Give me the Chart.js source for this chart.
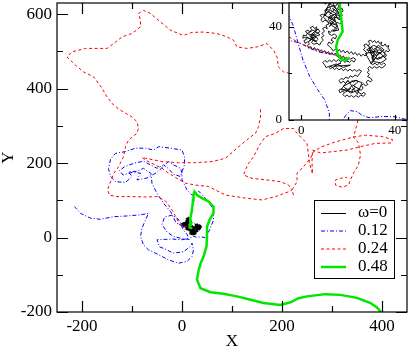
<!DOCTYPE html>
<html>
<head>
<meta charset="utf-8">
<script src="https://cdn.jsdelivr.net/npm/chart.js@4.4.1/dist/chart.umd.min.js"></script>
<style>
  html, body { margin: 0; padding: 0; background: #fff; }
  #wrap { position: relative; width: 409px; height: 350px; }
  #main { position: absolute; left: 0; top: 0; }
  #inset { position: absolute; left: 262px; top: 0; }
</style>
</head>
<body>
<div id="wrap">
  <canvas id="main" width="409" height="350"></canvas>
  <canvas id="inset" width="147" height="145"></canvas>
</div>
<script>
// tick values
const xMajor = [-200, 0, 200, 400];
const xMinor = [-100, 100, 300];
const yMajor = [-200, 0, 200, 400, 600];
const yMinor = [-100, 100, 300, 500];
const insetMajor = [0, 40];
const insetMinor = [20];
const names = ["\u03c9=0", "0.12", "0.24", "0.48"];

// omega = 0 (small random walk, seen in the inset)
const w0 = [
  [20,26],[19.4,26.9],[18.6,26.2],[18.1,27.4],[17.2,26.7],[16.5,27.9],[15.9,26.9],[15.1,27.6],[14.6,28.7],[13.8,27.8],
  [13.1,28.9],[12.3,28.1],[11.6,29.3],[10.7,28.4],[10.1,29.7],[9.2,28.9],[8.6,30.1],[7.8,29.2],[7.1,30.5],[6.2,29.8],
  [5.6,31],[4.7,30.1],[4.1,31.4],[3.2,30.7],[2.6,31.9],
  [3.5,32.6],[2.7,33.4],[1.6,32.8],[1.1,34],[2.3,34.6],[1.5,35.5],[0.6,35],[0.9,36.4],[2,36],[2.6,37.2],
  [1.7,37.9],[2.9,38.5],[3.6,37.6],[4.4,38.7],[3.8,39.6],[5,40.1],[5.7,39.1],[6.6,39.9],[6.1,38.4],[7.3,38.9],
  [7.9,37.8],[6.8,37.2],[5.9,36.3],[4.8,36.9],[4.2,35.7],[5.3,35.2],
  [3,33.5],[6,36],[2.5,37],[5,38.5],[8,36.5],[4,35],[7,39],[3.5,36],[6.5,33.5],[2,35.5],[4.9,34.3],
  [6.4,35.6],[7.1,34.5],[6.2,33.6],[5.1,34.1],
  [4.3,33.2],[5.4,32.4],[6.7,32.9],[7.8,32.1],[8.5,33.3],[9.4,34.2],[8.6,35.4],[9.7,36.1],[8.8,37.1],[9.9,38],
  [9.1,39.2],[10.2,39.8],
  [11.1,39],[10.6,40.6],[11.8,41.1],[11.2,42.3],[10,42.8],[9.2,41.9],[8.4,42.7],[8.9,43.9],[8,44.8],[9.1,45.3],
  [10.2,44.6],[10.8,45.9],[9.9,46.8],[10.9,47.6],[11.9,46.9],[12.6,48],[11.7,48.8],[12.4,49.9],[11.2,50.4],[10.3,49.6],
  [9.5,50.5],[10.1,51.2],[11.6,51.5],[12.9,50.8],[13.5,51.6],[14.3,50.5],[13.6,49.4],[14.7,48.7],[15.4,49.8],[16.1,48.9],
  [15.5,47.6],[16.6,47],[17.4,47.9],[17.9,46.6],[16.9,45.9],[17.6,44.8],[16.5,44.1],[15.6,45],[14.8,44.2],
  [12,40],[14.5,42.5],[11.5,44],[15,45.5],[12.5,47],[10,45],[13,43],[16,46],[14,49],[11,48],[9.5,44],[12,41.5],
  [15.5,40.5],[13.5,38],[16,38.5],[14,44],[17,43.5],[15,47.5],[12,50],[10.5,47],[13.2,45.4],
  [13.9,45.1],[13.1,44.2],[12.2,45.2],[12.9,46.3],[14,46.9],[13.4,47.8],[14.4,47.2],[15.2,46.1],[14.6,45.3],[15.7,43.3],
  [16.8,42.9],[17.5,41.8],[16.4,41.2],[15.3,41.9],[14.5,40.9],[13.6,41.7],[12.5,42.6],[13.4,43.7],[12.3,44.1],[11.6,43.2],
  [12.4,41.8],[13,40.5],[14.1,39.8],[15.2,39.2],[14.4,38.1],[13.3,38.6],[12.5,37.5],[11.6,38.1],[11.9,36.8],[13,36.2],
  [14.2,36.9],[15.1,36],[14.6,34.8],[13.5,35.3],[12.7,34.2],[13.8,33.6],[12.9,32.7],[11.8,33.4],[11.2,32.2],[12.1,31.4],
  [12.9,30.6],[13.7,29.5],[14.6,30.4],[15.4,29.3],[16.3,30.2],[17.1,29],[18,29.9],[18.8,28.7],[19.7,29.6],[20.5,28.4],
  [21.4,29.3],[22.2,28.1],[23.1,28.9],[23.9,27.7],[24.8,28.5],[25.6,27.3],
  [26.5,28.2],[27.3,27.4],[28.2,28.3],[27.5,29.4],[26.6,30.1],[27.4,31],[26.8,32.1],[27.9,32.6],[28.7,31.6],[29.3,32.8],
  [28.6,33.7],[29.8,34.2],[30.5,33.2],[31.4,34.1],[32.1,33],[33,33.8],[33.6,32.7],[34.5,33.4],[34.1,32.1],[35.2,31.7],
  [35.9,32.6],[36.6,31.4],[37.5,31.9],[37.1,30.6],[38,29.9],[37.2,29.2],[36.3,29.8],[35.6,28.7],[36.5,27.9],[35.8,26.8],
  [34.8,27.4],[34.2,26.3],[33.3,27],[32.6,25.9],[31.7,26.7],[31.1,25.6],[30.2,26.5],[30.8,27.6],[31.9,28],[32.8,28.9],
  [28,30],[31,32],[34,30.5],[36,28],[33,26],[30,28],[33,32],[35.5,30],[32,27.5],[29,31.5],[31,25],[34,24.5],
  [36.5,26],[33.5,29],[30,24],[27.5,28.5],[32.4,29.6],
  [33.7,28.2],[34.5,29.3],[33.6,30.1],[32.6,29.8],[31.8,30.8],[30.9,30.1],[30.1,31.2],[29.4,30.3],[28.8,29.2],[29.7,28.4],
  [30.4,29.3],[31.2,29.1],[30.6,25.2],[29.6,24.5],[30.5,23.7],[31.6,24.3],[32.5,23.5],[33.5,24.4],[34.4,23.6],[35.3,24.5],
  [36.1,23.8],[35.4,22.8],[34.3,22.3],[33.4,23],[32.4,22.2],[31.3,22.9],[30.4,22.1],[29.3,22.9],[28.5,22.1],
  [29.1,21.2],[28.2,20.4],[29.2,19.6],[28.4,18.6],[29.6,18],[30.4,17],[29.5,16.3],[28.6,17.1],[27.8,16.2],[28.5,15.2],
  [27.4,14.6],[26.6,15.6],[25.8,14.7],[26.5,13.6],
  [25.6,12.7],[24.6,13.5],[23.9,12.5],[24.8,11.6],[25.9,11.1],[26.8,11.9],[27.5,11],[26.6,10.2],[25.4,10.6],[24.4,9.8],
  [23.4,10.5],[22.4,9.7],[21.5,10.5],[20.5,9.9],[19.6,10.7],[18.7,10],[17.8,10.9],[18.6,11.8],[17.5,12.3],[16.6,11.6],
  [16.1,12.8],[17.2,13.4],[18.3,12.9],[19.4,13.6],[20.3,12.7],[21.2,13.7],
  [19,12],[22,15],[25,13],[21,11.5],[18,14.5],[23,17],[26,16],[24,11],[20,17],[17,13],[22,12],[21.8,13.2],
  [22.2,12.9],[23.1,13.9],[22.4,14.9],[23.5,15.6],
  [24.4,16.5],[23.4,17.1],[22.6,16.2],[21.7,16.9],[20.8,15.9],[19.8,16.7],[18.9,15.8],[17.9,16.6],[16.9,15.7],[16.2,16.9],
  [17.1,17.8],[18.2,17.4],[19.1,18.4],[20.2,17.8],[21,18.9],[22.1,18.3],[23,19.3],[24.1,18.6],[24.9,19.8],[25.8,20.9],
  [24.7,21.6],[23.8,20.8],[22.8,21.6],
  [21.8,20.9],[20.9,21.8],[19.9,21],[18.9,21.9],[18,21.1],[17.1,22.2],[16.1,21.4],[15.2,22.4],[14.2,21.6],[13.3,22.7],
  [12,23],[15,24],[18,22.5],[21,23.5],[14,23],[17,24.5],[12.8,22.2],
  [12.4,21.9],[11.6,23],[10.6,22.4],[10,23.6],[9.2,24.6],[10.1,25.5],[11.1,24.7],[12,25.7],[13,24.9],[13.9,25.9],
  [14.9,25],[15.9,25.9],[16.8,24.9],[17.8,25.7],[18.7,24.6],[19.6,25.5],[20.6,24.7],[21.6,25.6],[22.6,24.8],[23.3,26],
  [22.2,26.7],[21.1,26.1],[20.2,26.9]
];

// omega = 0.12
const w12 = [
  [20,25],[14,28],[8,29],[3.6,30.7],[-0.7,33],[-5,34],[-12,40],[-23,70],[-37,92],[-50,119],[-60,145],[-62,172],
  [-77,186],[-90,178],[-107,177],[-100,164],[-113,148],[-133,150],[-143,165],[-147,185],[-143,210],[-133,226],
  [-113,231],[-93,240],[-73,240],[-57,235],[-47,244],[-23,240],[0,235],[5,217],[5,195],[0,177],[-3,164],[-17,170],
  [-27,185],[-37,195],[-50,186],[-63,195],[-77,205],[-95,200],[-115,190],[-125,180],[-118,168],[-100,175],[-83,173],
  [-90,155],[-70,160],[-50,175],[-27,204],[-17,195],[-3,186],[0,173],[0,155],[10,128],[20,114],[33,125],[45,108],
  [53,97],[63,74],[63,47],[55,20],[46,0],[40,1.4],[35,1.5],[29,1],[26,2],[24,3.6],[21,4],[19,2],[15,-5],[0,-3],
  [-17,3],[-30,15],[-40,35],[-35,55],[-20,60],[-8,50],[-3.6,40.7],[-1.4,33],[0.7,25.7],[3.6,18.6],[7,13],[10,8.6],
  [12,3],[12,-3],[0,-6],[-20,-4],[-35,-5],[-50,-6],[-45,-25],[-37,-29],[-17,-42],[3,-38],[17,-24],[20,-15],[23,-33],
  [20,-51],[10,-64],[-7,-69],[-27,-60],[-47,-46],[-67,-33],[-77,-20],[-83,3],[-80,25],[-73,47],[-67,65],[-83,61],
  [-110,58],[-137,56],[-163,49],[-183,52],[-203,65],[-215,83]
];

// omega = 0.24 (null = gap in the drawn line)
const w24 = [
  [20,26],[12,28.6],[5,30.7],[-1,33],[-6,36],[-10,50],[-20,74],[-33,98],[-49,110],[-73,109],[-103,110],[-130,110],
  [-145,114],[-149,128],[-143,150],[-137,171],[-127,190],[-117,217],[-113,244],[-107,262],[-90,280],[-87,293],
  [-90,311],[-100,324],[-123,342],[-137,356],[-150,378],[-160,401],[-177,432],[-197,445],[-213,463],[-230,485],
  [-220,499],[-193,508],[-150,508],[-133,525],[-120,539],[-100,548],[-83,566],[-83,584],[-87,602],[-77,610],
  [-63,602],[-43,579],[-23,557],[-7,548],[3,543],[20,551],[43,552],[70,548],[90,539],[103,530],[110,512],[130,508],
  [150,512],[170,521],[183,503],[190,485],[193,458],[203,445],[221,439],[277,396],[327,356],[353,321],[349,299],
  [343,270],[353,254],[357,222],[353,195],[343,173],[337,155],[333,141],[320,135],[307,141],[307,155],[317,159],[330,162],
  null,
  [223,114],[220,128],[230,150],[230,173],[243,190],[257,213],[263,231],[280,244],[307,257],[343,270],[367,275],
  [401,271],[421,263],[419,254],[387,253],[357,244],[330,235],[303,231],[277,227],[261,235],[260,203],[261,171],
  [255,200],[250,253],[230,280],[223,293],[203,293],[187,280],[167,271],[157,253],[150,235],[143,217],[133,199],
  [127,182],[123,168],[140,159],[167,155],[197,150],[213,141],[220,128],[213,123],[187,110],[160,101],[127,106],
  [87,114],[53,137],[27,141],[7,146],[-10,159],[-27,173],[-40,186],[-73,208],[-80,215],[-73,213],[-40,204],[-7,201],
  [27,201],[60,204],[87,213],[110,240],[133,266],[147,280],[153,298],[157,324],[157,347]
];

// omega = 0.48
const w48 = [
  [20.6,26.4],[19.1,25.7],[17,26],[15.6,27.9],[14.9,31.4],[15.6,34.3],[17.7,37.9],[17,44.3],[16.3,51.4],[20,75],
  [22,100],[23,115],[25,123],[30,114],[40,106],[53,97],[63,83],[63,65],[55,47],[50,29],[50,3],[49,-24],[43,-51],
  [37,-70],[33,-90],[30,-113],[37,-136],[57,-147],[83,-151],[110,-158],[137,-167],[163,-176],[197,-181],[217,-174],
  [233,-163],[250,-158],[287,-152],[317,-154],[350,-162],[377,-176],[390,-188],[398,-200]
];

const series = [w0, w12, w24, w48];
const colors = ["#000000", "#0000ff", "#ff0000", "#00e600"];
const widths = [1, 1, 1, 2.5];
const dashes = [[], [4, 2, 1, 2], [3, 2.5], []];

const FONT = "'Liberation Serif', 'Times New Roman', serif";
Chart.defaults.color = "#000";
Chart.defaults.font.family = FONT;

function pts(arr) {
  return arr.map(p => p ? { x: p[0], y: p[1] } : { x: null, y: null });
}

function makeSets(inset) {
  return series.map((s, i) => ({
    data: pts(s),
    showLine: true,
    borderColor: colors[i],
    borderWidth: i === 0 ? (inset ? 0.9 : 1.6) : widths[i],
    borderDash: dashes[i],
    pointRadius: 0,
    tension: 0,
    order: 3 - i
  }));
}

// inward ticks on all four sides plus the frame
const frameTicks = {
  id: "frameTicks",
  beforeDraw(c, args, o) {
    if (!o.fill) return;
    const a = c.chartArea;
    c.ctx.save();
    c.ctx.fillStyle = "#fff";
    c.ctx.fillRect(a.left, a.top, a.right - a.left, a.bottom - a.top);
    c.ctx.restore();
  },
  afterDraw(c, args, o) {
    const { ctx, chartArea: a } = c;
    const xs = c.scales.x, ys = c.scales.y;
    ctx.save();
    ctx.strokeStyle = "#000";
    ctx.lineWidth = o.lw;
    ctx.beginPath();
    const vx = (vals, len) => vals.forEach(v => {
      const px = Math.round(xs.getPixelForValue(v)) + 0.5;
      ctx.moveTo(px, a.bottom); ctx.lineTo(px, a.bottom - len);
      ctx.moveTo(px, a.top); ctx.lineTo(px, a.top + len);
    });
    const vy = (vals, len) => vals.forEach(v => {
      const py = Math.round(ys.getPixelForValue(v)) + 0.5;
      ctx.moveTo(a.left, py); ctx.lineTo(a.left + len, py);
      ctx.moveTo(a.right, py); ctx.lineTo(a.right - len, py);
    });
    vx(o.xMajor, o.major); vx(o.xMinor, o.minor);
    vy(o.yMajor, o.major); vy(o.yMinor, o.minor);
    ctx.stroke();
    ctx.strokeRect(a.left, a.top, a.right - a.left, a.bottom - a.top);
    ctx.restore();
  }
};

const legendBox = {
  id: "legendBox",
  afterDraw(c) {
    const ctx = c.ctx;
    ctx.save();
    ctx.fillStyle = "#fff";
    ctx.fillRect(314, 200, 80, 78);
    ctx.strokeStyle = "#000";
    ctx.lineWidth = 1;
    ctx.strokeRect(314.5, 200.5, 80, 78);
    names.forEach((n, i) => {
      const y = 213 + i * 18;
      ctx.beginPath();
      ctx.strokeStyle = colors[i];
      ctx.lineWidth = widths[i];
      ctx.setLineDash(dashes[i]);
      const ly = i === 0 ? y + 0.5 : y;
      ctx.moveTo(321, ly); ctx.lineTo(346, ly);
      ctx.stroke();
      ctx.setLineDash([]);
      ctx.fillStyle = "#000";
      ctx.font = "17px " + FONT;
      ctx.textBaseline = "middle";
      ctx.fillText(n, 358, y);
    });
    ctx.restore();
  }
};

function noPad(s) { s.paddingLeft = 0; s.paddingRight = 0; s.paddingTop = 0; s.paddingBottom = 0; }

new Chart(document.getElementById("main"), {
  type: "scatter",
  data: { datasets: makeSets(false) },
  options: {
    responsive: false,
    animation: false,
    events: [],
    layout: { padding: { top: 3, right: 2, left: 0, bottom: 0 } },
    plugins: {
      legend: { display: false },
      tooltip: { enabled: false },
      frameTicks: { xMajor, xMinor, yMajor, yMinor, major: 11, minor: 6, lw: 1.2 }
    },
    scales: {
      x: {
        type: "linear", min: -250, max: 450,
        afterBuildTicks: s => { s.ticks = xMajor.map(v => ({ value: v })); },
        afterFit: s => { s.height = 38; noPad(s); },
        ticks: { font: { size: 17 }, padding: 4, maxRotation: 0, autoSkip: false },
        grid: { display: false, drawTicks: false, tickLength: 0 },
        border: { display: false },
        title: { display: true, text: "X", font: { size: 17, lineHeight: 1 }, padding: 0 }
      },
      y: {
        type: "linear", min: -200, max: 630,
        afterBuildTicks: s => { s.ticks = yMajor.map(v => ({ value: v })); },
        afterFit: s => { s.width = 57; noPad(s); },
        ticks: { font: { size: 17 }, padding: 5, autoSkip: false },
        grid: { display: false, drawTicks: false, tickLength: 0 },
        border: { display: false },
        title: { display: true, text: "Y", font: { size: 17, lineHeight: 1 }, padding: 0 }
      }
    }
  },
  plugins: [frameTicks, legendBox]
});

new Chart(document.getElementById("inset"), {
  type: "scatter",
  data: { datasets: makeSets(true) },
  options: {
    responsive: false,
    animation: false,
    events: [],
    layout: { padding: { top: 3, right: 2, left: 0, bottom: 0 } },
    plugins: {
      legend: { display: false },
      tooltip: { enabled: false },
      frameTicks: { xMajor: insetMajor, xMinor: insetMinor, yMajor: insetMajor, yMinor: insetMinor,
                    major: 5, minor: 3, lw: 1.2, fill: true }
    },
    scales: {
      x: {
        type: "linear", min: -5.3, max: 45.3,
        afterBuildTicks: s => { s.ticks = insetMajor.map(v => ({ value: v })); },
        afterFit: s => { s.height = 25; noPad(s); },
        ticks: { font: { size: 13 }, padding: 3, maxRotation: 0, autoSkip: false },
        grid: { display: false, drawTicks: false, tickLength: 0 },
        border: { display: false }
      },
      y: {
        type: "linear", min: 0, max: 50.1,
        afterBuildTicks: s => { s.ticks = insetMajor.map(v => ({ value: v })); },
        afterFit: s => { s.width = 27; noPad(s); },
        ticks: { font: { size: 13 }, padding: 7, autoSkip: false },
        grid: { display: false, drawTicks: false, tickLength: 0 },
        border: { display: false }
      }
    }
  },
  plugins: [frameTicks]
});
</script>
</body>
</html>
